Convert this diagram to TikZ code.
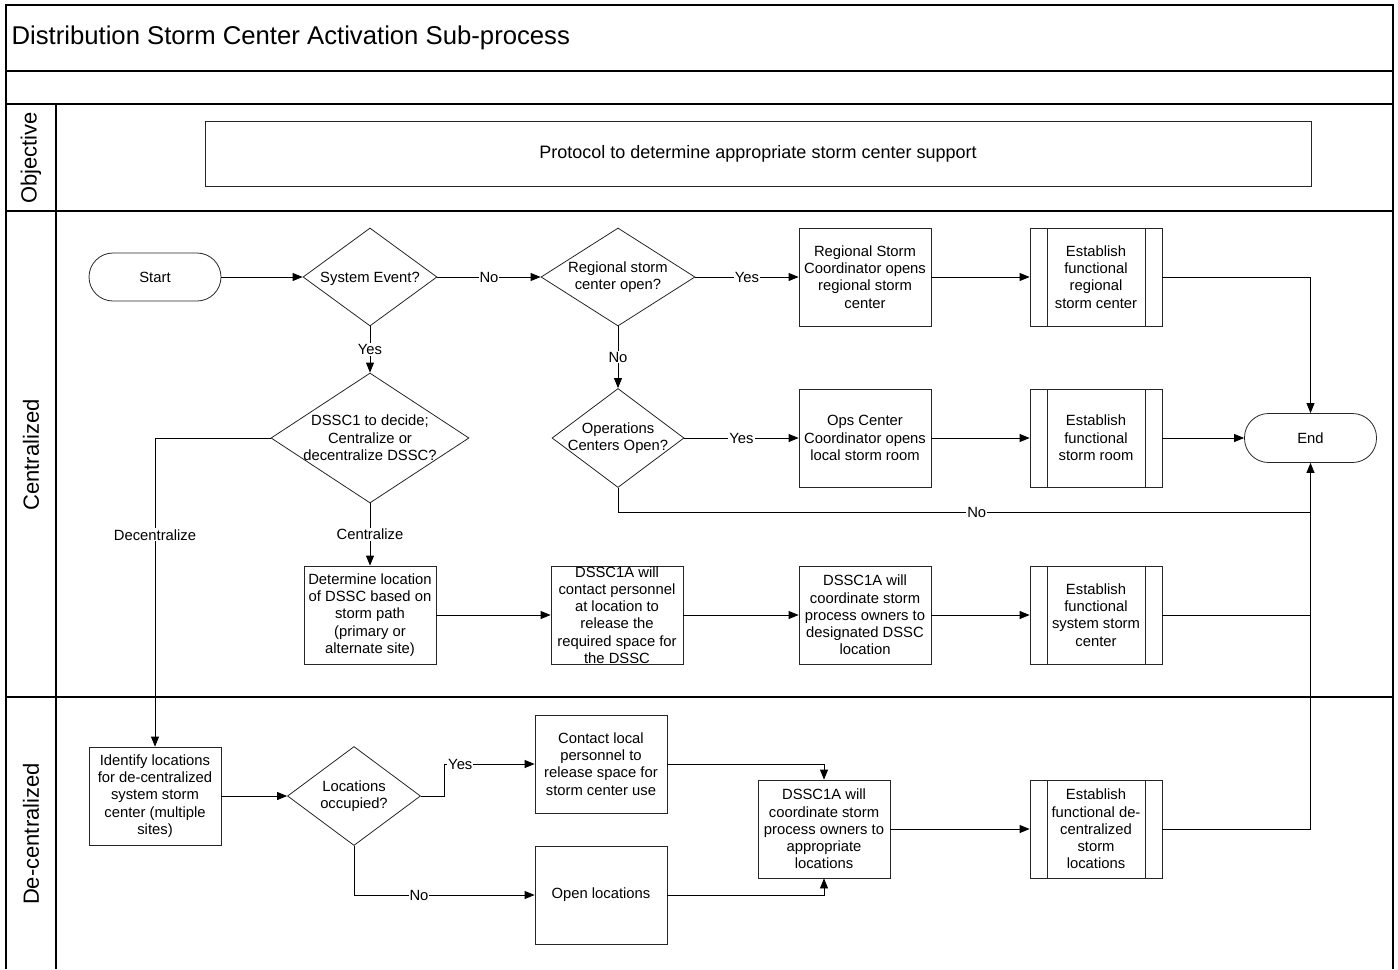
\documentclass[tikz,border=0pt]{standalone}
\usepackage{fontspec}
\setmainfont{Liberation Sans}
\usetikzlibrary{shapes.geometric,arrows.meta,calc}

\begin{document}
\begin{tikzpicture}[x=1bp,y=-1bp,
  every node/.style={font=\fontsize{14.8bp}{17.3bp}\selectfont},
  frame/.style={line width=1.2bp, draw=black},
  box/.style={draw=black!85, line width=0.8bp, rectangle, minimum width=132bp,
    minimum height=98bp, inner sep=0pt, align=center},
  subproc/.style={box, path picture={
    \draw[black!85, line width=0.8bp]
      ([xshift=17bp]path picture bounding box.north west) -- ([xshift=17bp]path picture bounding box.south west)
      ([xshift=-17bp]path picture bounding box.north east) -- ([xshift=-17bp]path picture bounding box.south east);}},
  term/.style={draw=black!85, line width=0.8bp, rectangle, rounded corners=24bp,
    minimum width=132bp, minimum height=48bp, inner sep=0pt},
  decision/.style={draw=black!85, line width=0.8bp, diamond, inner sep=0pt},
  mid/.style={label={[align=center]center:#1}},
  link/.style={line width=0.8bp},
  arr/.style={link, -{Triangle[length=10bp,width=8bp]}},
  lbl/.style={fill=white, inner sep=1bp},
  lane/.style={rotate=90, font=\fontsize{22bp}{25bp}\selectfont}
]
\useasboundingbox (0,0) rectangle (1398,969);

% swimlane frame
\draw[frame] (6,969) -- (6,5) -- (1393,5) -- (1393,969);
\draw[frame] (6,71) -- (1393,71);
\draw[frame] (6,104) -- (1393,104);
\draw[frame] (6,211) -- (1393,211);
\draw[frame] (6,697) -- (1393,697);
\draw[frame] (56,104) -- (56,969);

\node[anchor=west, font=\fontsize{25.7bp}{29bp}\selectfont] (title) at (8,38) {Distribution Storm Center Activation Sub-process};
\node[lane] (lobj) at (31,158) {Objective};
\node[lane] (lcen) at (31,455) {Centralized};
\node[lane] (ldec) at (31,834) {De-centralized};

% objective
\node[draw=black!85, line width=0.8bp, minimum width=1106bp, minimum height=65bp, inner sep=0pt,
  font=\fontsize{18bp}{21bp}\selectfont]
  (obj) at (758,153.5) {Protocol to determine appropriate storm center support};

% centralized lane
\node[term] (start) at (155,277) {Start};
\node[decision, minimum width=134bp, minimum height=98bp,
  label={[yshift=-1.5bp]center:System Event?}] (sys) at (370,277) {};
\node[decision, minimum width=154bp, minimum height=98bp, mid={Regional storm\\center open?}] (reg) at (618,277) {};
\node[box] (rsc) at (865,277) {Regional Storm\\Coordinator opens\\regional storm\\center};
\node[subproc] (efr) at (1096,277) {Establish\\functional\\regional\\storm center};

\node[decision, minimum width=132bp, minimum height=99bp, mid={Operations\\Centers Open?}] (ops) at (618,438) {};
\node[box] (ocs) at (865,438) {Ops Center\\Coordinator opens\\local storm room};
\node[subproc] (efs) at (1096,438) {Establish\\functional\\storm room};
\node[term, minimum height=49bp] (end) at (1310.5,438) {End};

\node[decision, minimum width=198bp, minimum height=130bp, mid={DSSC1 to decide;\\Centralize or\\decentralize DSSC?}] (dssc) at (370,438) {};

\node[box] (det) at (370,615) {Determine location\\of DSSC based on\\storm path\\(primary or\\alternate site)};
\node[box, mid={DSSC1A will\\contact personnel\\at location to\\release the\\required space for\\the DSSC}] (dcp) at (617,615) {};
\node[box] (dco) at (865,615) {DSSC1A will\\coordinate storm\\process owners to\\designated DSSC\\location};
\node[subproc] (efss) at (1096,615) {Establish\\functional\\system storm\\center};

% de-centralized lane
\node[box] (idl) at (155,796) {Identify locations\\for de-centralized\\system storm\\center (multiple\\sites)};
\node[decision, minimum width=133bp, minimum height=99bp, mid={Locations\\occupied?}] (loc) at (354,796) {};
\node[box] (con) at (601,764) {Contact local\\personnel to\\release space for\\storm center use};
\node[box] (opn) at (601,895) {Open locations};
\node[box] (dca) at (824,829) {DSSC1A will\\coordinate storm\\process owners to\\appropriate\\locations};
\node[subproc] (edl) at (1096,829) {Establish\\functional de-\\centralized\\storm\\locations};

\coordinate (jno) at (1310.5,512);
\coordinate (jyes) at (444,764);

% connectors
\draw[arr] (start.east) -- (sys.west);
\draw[arr] (sys.east) -- node[lbl]{No} (reg.west);
\draw[arr] (reg.east) -- node[lbl]{Yes} (rsc.west);
\draw[arr] (rsc.east) -- (efr.west);
\draw[arr] (efr.east) -| (end.north);
\draw[arr] (reg.south) -- node[lbl]{No} (ops.north);
\draw[arr] (ops.east) -- node[lbl]{Yes} (ocs.west);
\draw[arr] (ocs.east) -- (efs.west);
\draw[arr] (efs.east) -- (end.west);
\draw[link] (ops.south) |- node[lbl, pos=0.759]{No} (jno);
\draw[arr] (sys.south) -- node[lbl]{Yes} (dssc.north);
\draw[arr] (dssc.west) -| node[lbl, pos=0.657]{Decentralize} (idl.north);
\draw[arr] (dssc.south) -- node[lbl]{Centralize} (det.north);
\draw[arr] (det.east) -- (dcp.west);
\draw[arr] (dcp.east) -- (dco.west);
\draw[arr] (dco.east) -- (efss.west);
\draw[link] (efss.east) -- (efss.east -| end.south);
\draw[arr] (idl.east) -- (loc.west);
\draw[link] (loc.east) -| (jyes);
\draw[arr] (jyes) -- node[lbl, pos=0.18]{Yes} (con.west);
\draw[arr] (loc.south) |- node[lbl, pos=0.68]{No} (opn.west);
\draw[arr] (con.east) -| (dca.north);
\draw[arr] (opn.east) -| (dca.south);
\draw[arr] (dca.east) -- (edl.west);
\draw[arr] (edl.east) -| (end.south);
\end{tikzpicture}
\end{document}
